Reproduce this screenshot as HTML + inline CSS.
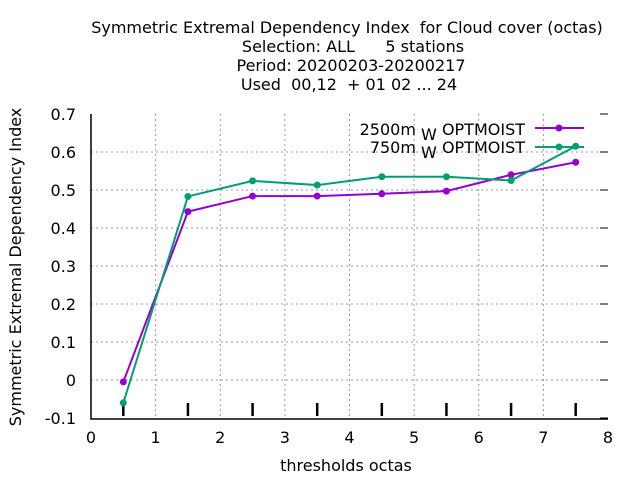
<!DOCTYPE html>
<html><head><meta charset="utf-8"><style>body{margin:0;background:#fff}svg{display:block;font-family:"DejaVu Sans",sans-serif}text{white-space:pre}</style></head>
<body>
<svg id="chart" width="640" height="480">
<g font-size="16" text-anchor="middle" fill="#000">
<text x="347" y="33">Symmetric Extremal Dependency Index  for Cloud cover (octas)</text>
<text x="353" y="52">Selection: ALL      5 stations</text>
<text x="351" y="71">Period: 20200203-20200217</text>
<text x="349" y="90">Used  00,12  + 01 02 ... 24</text>
</g>
<g id="grid"></g>
<g id="axes"></g>
<g id="series"></g>
<text x="346" y="471" font-size="16" text-anchor="middle">thresholds octas</text>
<text transform="translate(21,267) rotate(-90)" font-size="16" text-anchor="middle">Symmetric Extremal Dependency Index</text>
<g font-size="16">
<text x="525" y="135" text-anchor="end">2500m<tspan dy="5"> W </tspan><tspan dy="-5">OPTMOIST</tspan></text>
<line x1="535" y1="128" x2="584" y2="128" stroke="#9400d3" stroke-width="2"/><circle cx="559" cy="128" r="3.5" fill="#9400d3"/>
<text x="525" y="153" text-anchor="end">750m<tspan dy="5"> W </tspan><tspan dy="-5">OPTMOIST</tspan></text>
<line x1="535" y1="147" x2="584" y2="147" stroke="#009e73" stroke-width="2"/><circle cx="559" cy="147" r="3.5" fill="#009e73"/>
</g>
</svg>
<script>
const thresholds=[0.5,1.5,2.5,3.5,4.5,5.5,6.5,7.5];
const seriesA=[-0.005,0.443,0.484,0.484,0.49,0.497,0.54,0.573];
const seriesB=[-0.06,0.483,0.524,0.513,0.535,0.535,0.525,0.615];
const xTicks=[0,1,2,3,4,5,6,7,8];
const yTicks=[-0.1,0,0.1,0.2,0.3,0.4,0.5,0.6,0.7];
const NS="http://www.w3.org/2000/svg";
const L=91,R=608,T=114,B=418;
const xs=v=>L+(v-0)/8*(R-L);
const ys=v=>B-(v+0.1)/0.8*(B-T);
function mk(t,a,p){const e=document.createElementNS(NS,t);for(const k in a)e.setAttribute(k,a[k]);p.appendChild(e);return e;}
const grid=document.getElementById('grid'),axes=document.getElementById('axes'),ser=document.getElementById('series');
xTicks.forEach(v=>{const x=xs(v);
 if(v>0&&v<8){const g=mk('line',{x1:x,y1:T,x2:x,y2:B,stroke:'#999','stroke-dasharray':'2,3'},grid);}
 const t=mk('text',{x:x,y:B+25,'font-size':16,'text-anchor':'middle'},axes);t.textContent=v;
 });
yTicks.forEach(v=>{const y=ys(v);
 if(v>-0.1&&v<0.7){const g=mk('line',{x1:L,y1:y,x2:R,y2:y,stroke:'#999','stroke-dasharray':'2,3'},grid);}
 mk('line',{x1:R-8,y1:y,x2:R,y2:y,stroke:'#000'},axes);
 const t=mk('text',{x:L-15,y:y+6,'font-size':16,'text-anchor':'end'},axes);t.textContent=(Math.round(v*10)/10).toString();
 });
thresholds.forEach(v=>{const m=mk('line',{x1:xs(v),y1:403,x2:xs(v),y2:416,stroke:'#000','stroke-width':2.5},axes);
 });
mk('path',{d:`M${L},${T}V${B+1}H${R}`,fill:'none',stroke:'#000','stroke-width':1.5},axes);
function draw(vals,col,name){
 const p=mk('polyline',{points:vals.map((v,i)=>xs(thresholds[i])+','+ys(v)).join(' '),fill:'none',stroke:col,'stroke-width':2},ser);
 
 vals.forEach((v,i)=>{const c=mk('circle',{cx:xs(thresholds[i]),cy:ys(v),r:3.5,fill:col},ser);
  });
}
draw(seriesA,'#9400d3','series-2500m');
draw(seriesB,'#009e73','series-750m');
</script>
</body></html>
